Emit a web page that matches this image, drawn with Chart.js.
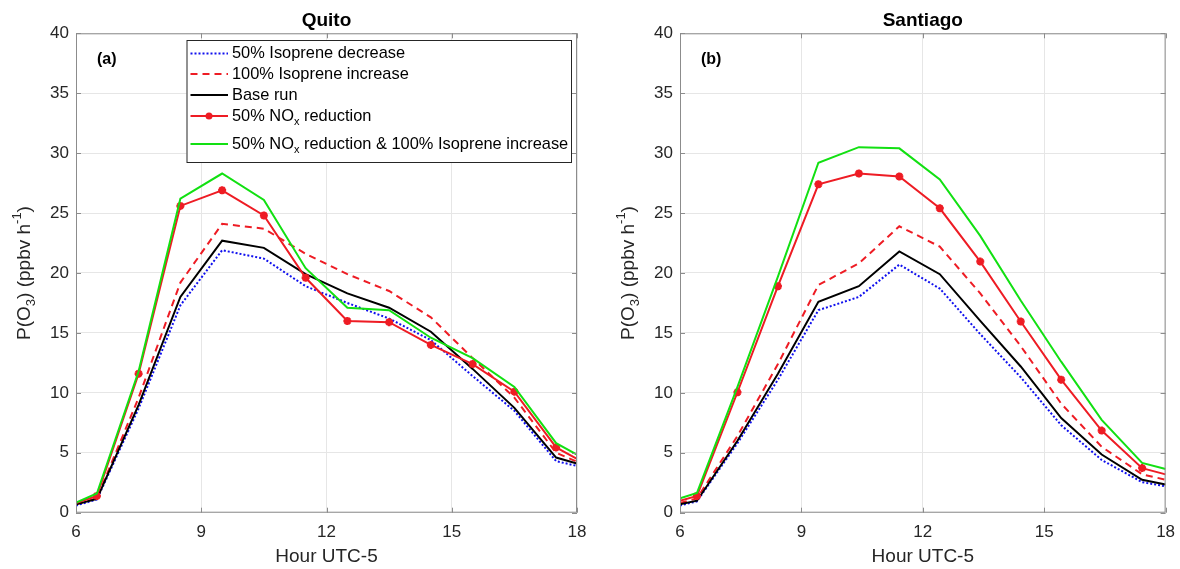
<!DOCTYPE html>
<html>
<head>
<meta charset="utf-8">
<script src="https://cdn.jsdelivr.net/npm/chart.js@4.4.0/dist/chart.umd.min.js"></script>
<style>
  body { margin: 0; background: #fff; }
  #wrap { position: relative; width: 1180px; height: 569px; }
  .panel { position: absolute; top: 0; width: 590px; height: 569px; }
</style>
</head>
<body>
<div id="wrap">
  <div class="panel" style="left:0"><canvas id="quito" width="590" height="569"></canvas></div>
  <div class="panel" style="left:590px"><canvas id="santiago" width="590" height="569"></canvas></div>
</div>
<script>
const FONT = '"Liberation Sans", Arial, sans-serif';

// hours of the model output (line ends clipped at the axis limits)
const quitoHours = [6, 6.5, 7.5, 8.5, 9.5, 10.5, 11.5, 12.5, 13.5, 14.5, 15.5, 16.5, 17.5, 18];
const santiagoHours = [6, 6.42, 7.42, 8.42, 9.42, 10.42, 11.42, 12.42, 13.42, 14.42, 15.42, 16.42, 17.42, 18];

const xTicks = [6, 9, 12, 15, 18];
const yTicks = [0, 5, 10, 15, 20, 25, 30, 35, 40];

const seriesNames = [
  '50% Isoprene decrease',
  '100% Isoprene increase',
  'Base run',
  '50% NO_x reduction',
  '50% NO_x reduction & 100% Isoprene increase'
];

// Quito, P(O3) ppbv/h
const quitoIsopDown = [0.6, 1.1, 8.7, 17.3, 21.9, 21.2, 18.9, 17.5, 16.2, 14.4, 11.4, 8.5, 4.3, 3.9];
const quitoIsopUp   = [0.7, 1.2, 9.6, 19.2, 24.1, 23.7, 21.6, 19.9, 18.5, 16.3, 12.9, 9.6, 5.0, 4.25];
const quitoBase     = [0.7, 1.15, 9.0, 18.0, 22.7, 22.1, 19.9, 18.3, 17.1, 15.1, 12.0, 8.75, 4.6, 4.1];
const quitoNox      = [0.8, 1.4, 11.6, 25.6, 26.9, 24.8, 19.6, 16.0, 15.9, 14.0, 12.4, 10.1, 5.45, 4.5];
const quitoNoxIsop  = [0.85, 1.6, 11.8, 26.2, 28.3, 26.1, 20.4, 17.1, 16.9, 14.6, 12.9, 10.5, 5.8, 4.85];

// Santiago, P(O3) ppbv/h
const santIsopDown = [0.6, 0.95, 5.8, 11.1, 16.9, 18.0, 20.7, 18.7, 14.9, 11.3, 7.3, 4.4, 2.55, 2.2];
const santIsopUp   = [0.8, 1.2, 6.4, 12.4, 19.0, 20.8, 23.9, 22.2, 18.3, 13.9, 9.1, 5.5, 3.2, 2.75];
const santBase     = [0.7, 1.0, 6.0, 11.6, 17.6, 18.9, 21.8, 19.9, 16.0, 12.2, 7.9, 4.85, 2.75, 2.35];
const santNox      = [1.0, 1.4, 10.05, 18.9, 27.4, 28.3, 28.05, 25.4, 20.95, 15.95, 11.1, 6.85, 3.72, 3.2];
const santNoxIsop  = [1.2, 1.65, 10.5, 19.7, 29.2, 30.5, 30.4, 27.8, 23.1, 17.7, 12.6, 7.75, 4.15, 3.65];

const styles = [
  { color: '#1010ee', dash: [2, 2], marker: false },
  { color: '#ee1c24', dash: [7, 5], marker: false },
  { color: '#000000', dash: [], marker: false },
  { color: '#ee1c24', dash: [], marker: true },
  { color: '#12e012', dash: [], marker: false }
];

// draws text pieces, some as sub/superscripts
function drawRich(ctx, parts, x, y, size) {
  parts.forEach(p => {
    if (p.sub || p.sup) {
      ctx.font = `${Math.round(size * 0.7)}px ${FONT}`;
      const dy = p.sub ? size * 0.35 : -size * 0.4;
      ctx.fillText(p.t, x, y + dy);
    } else {
      ctx.font = `${size}px ${FONT}`;
      ctx.fillText(p.t, x, y);
    }
    x += ctx.measureText(p.t).width;
  });
  return x;
}
function richWidth(ctx, parts, size) {
  let w = 0;
  parts.forEach(p => {
    ctx.font = (p.sub || p.sup) ? `${Math.round(size * 0.7)}px ${FONT}` : `${size}px ${FONT}`;
    w += ctx.measureText(p.t).width;
  });
  return w;
}
function splitSub(label) {
  const bits = label.split('_x');
  const parts = [];
  bits.forEach((b, i) => {
    if (i > 0) parts.push({ t: 'x', sub: true });
    parts.push({ t: b });
  });
  return parts;
}

const frame = {
  id: 'frame',
  afterDatasetsDraw(chart, args, opts) {
    const { ctx, chartArea: a, scales: { x, y } } = chart;
    ctx.save();
    ctx.strokeStyle = '#8c8c8c';
    ctx.lineWidth = 1;
    ctx.strokeRect(a.left + 0.5, a.top + 0.5, a.right - a.left - 1, a.bottom - a.top - 1);
    ctx.beginPath();
    xTicks.forEach(v => {
      const px = Math.round(x.getPixelForValue(v)) + 0.5;
      ctx.moveTo(px, a.bottom); ctx.lineTo(px, a.bottom - 5);
      ctx.moveTo(px, a.top); ctx.lineTo(px, a.top + 5);
    });
    yTicks.forEach(v => {
      const py = Math.round(y.getPixelForValue(v)) + 0.5;
      ctx.moveTo(a.left, py); ctx.lineTo(a.left + 5, py);
      ctx.moveTo(a.right, py); ctx.lineTo(a.right - 5, py);
    });
    ctx.stroke();

    // panel tag
    ctx.fillStyle = '#000';
    ctx.font = `bold 16px ${FONT}`;
    ctx.textBaseline = 'middle';
    ctx.textAlign = 'left';
    ctx.fillText(opts.tag, a.left + 21, a.top + 26);

    // y axis title with sub/superscripts
    const yParts = [{ t: 'P(O' }, { t: '3', sub: true }, { t: ') (ppbv h' }, { t: '-1', sup: true }, { t: ')' }];
    ctx.fillStyle = '#262626';
    ctx.translate(a.left - 51, (a.top + a.bottom) / 2);
    ctx.rotate(-Math.PI / 2);
    const w = richWidth(ctx, yParts, 19);
    drawRich(ctx, yParts, -w / 2, 0, 19);
    ctx.restore();

    if (opts.legend) {
      ctx.save();
      const box = { l: 186.5, t: 40, r: 571, b: 162 };
      ctx.fillStyle = '#fff';
      ctx.fillRect(box.l, box.t, box.r - box.l, box.b - box.t);
      ctx.strokeStyle = '#262626';
      ctx.lineWidth = 1;
      ctx.strokeRect(box.l + 0.5, box.t + 0.5, box.r - box.l, box.b - box.t);
      const rows = [53.5, 74, 95, 116, 144];
      chart.data.datasets.forEach((ds, i) => {
        const st = styles[i];
        const ry = rows[i];
        ctx.strokeStyle = st.color;
        ctx.lineWidth = 2;
        ctx.setLineDash(st.dash);
        ctx.beginPath();
        ctx.moveTo(190.5, ry); ctx.lineTo(228, ry);
        ctx.stroke();
        ctx.setLineDash([]);
        if (st.marker) {
          ctx.fillStyle = st.color;
          ctx.beginPath();
          ctx.arc(209, ry, 3.5, 0, Math.PI * 2);
          ctx.fill();
        }
        ctx.fillStyle = '#000';
        ctx.textBaseline = 'middle';
        drawRich(ctx, splitSub(seriesNames[i]), 232, ry, 16.4);
      });
      ctx.restore();
    }
  }
};

function makeChart(id, hours, values, tag, showLegend, yWidth, padRight, title) {
  const datasets = values.map((vals, i) => ({
    label: seriesNames[i],
    data: vals.map((v, k) => ({ x: hours[k], y: v })),
    borderColor: styles[i].color,
    backgroundColor: styles[i].color,
    borderWidth: 2,
    borderDash: styles[i].dash,
    pointStyle: 'star',
    pointRadius: styles[i].marker ? (c => (c.dataIndex === 0 || c.dataIndex === hours.length - 1) ? 0 : 4) : 0,
    pointBorderWidth: 2.5,
    tension: 0,
    order: 5 - i
  }));

  return new Chart(document.getElementById(id), {
    type: 'line',
    data: { datasets },
    options: {
      responsive: false,
      animation: false,
      layout: { padding: { left: 0, right: padRight, top: 0, bottom: 0 } },
      plugins: {
        legend: { display: false },
        tooltip: { enabled: false },
        title: {
          display: true, text: title, fullSize: false,
          font: { family: FONT, size: 19, weight: 'bold' },
          color: '#000',
          padding: { top: 9, bottom: 1.5 }
        },
        frame: { tag, legend: showLegend }
      },
      scales: {
        x: {
          type: 'linear', min: 6, max: 18,
          afterBuildTicks: s => { s.ticks = xTicks.map(v => ({ value: v })); },
          ticks: { font: { family: FONT, size: 17 }, color: '#262626', padding: 9, maxRotation: 0 },
          grid: { color: '#e6e6e6', drawTicks: false },
          border: { display: false },
          title: {
            display: true, text: 'Hour UTC-5',
            font: { family: FONT, size: 19 }, color: '#262626',
            padding: { top: 0, bottom: 1 }
          },
          afterFit: s => { s.height = 56.3; s.paddingLeft = 0; s.paddingRight = 0; }
        },
        y: {
          min: 0, max: 40,
          afterBuildTicks: s => { s.ticks = yTicks.map(v => ({ value: v })); },
          ticks: { font: { family: FONT, size: 17 }, color: '#262626', padding: 7 },
          grid: { color: '#e6e6e6', drawTicks: false },
          border: { display: false },
          afterFit: s => { s.width = yWidth; }
        }
      }
    },
    plugins: [frame]
  });
}

makeChart('quito', quitoHours,
  [quitoIsopDown, quitoIsopUp, quitoBase, quitoNox, quitoNoxIsop],
  '(a)', true, 76, 13, 'Quito');
makeChart('santiago', santiagoHours,
  [santIsopDown, santIsopUp, santBase, santNox, santNoxIsop],
  '(b)', false, 90, 14.4, 'Santiago');
</script>
</body>
</html>
